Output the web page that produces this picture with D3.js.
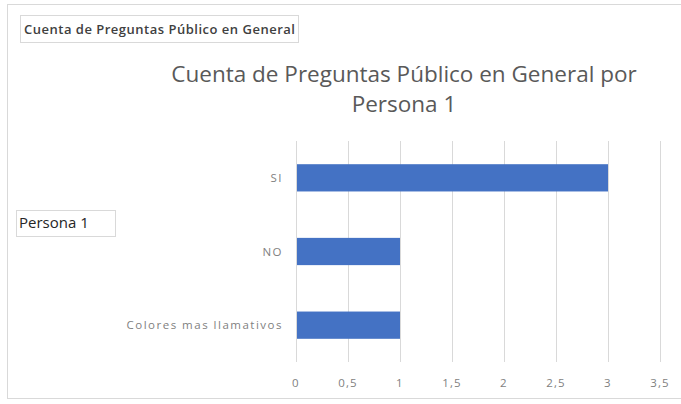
<!DOCTYPE html>
<html>
<head>
<meta charset="utf-8">
<script src="https://cdn.jsdelivr.net/npm/d3@7.9.0/dist/d3.min.js"></script>
<style>
  body { margin: 0; background: #fff; }
  svg { display: block; font-family: "Open Sans", sans-serif; }
</style>
</head>
<body>
<svg id="chart" width="681" height="404"></svg>
<script>
// data
const categories = ['SI', 'NO', 'Colores mas llamativos'];
const counts = [3, 1, 1];
const tickValues = [0, 0.5, 1, 1.5, 2, 2.5, 3, 3.5];
const titleLines = ['Cuenta de Preguntas Público en General por', 'Persona 1'];
const filterLabel = 'Cuenta de Preguntas Público en General';
const rowLabel = 'Persona 1';

const svg = d3.select('#chart');

// outer chart frame
svg.append('rect')
  .attr('x', 7.5).attr('y', 4.5)
  .attr('width', 690).attr('height', 394)
  .attr('fill', '#fff')
  .attr('stroke', '#d9d9d9');

// plot area
const x = d3.scaleLinear().domain([0, 3.5]).range([296, 660]);
const y = d3.scaleBand().domain(categories).range([141, 362]).paddingInner(0.63).paddingOuter(0.315);

// gridlines
svg.append('g')
  .selectAll('line')
  .data(tickValues)
  .join('line')
  .attr('x1', d => x(d) + 0.5).attr('x2', d => x(d) + 0.5)
  .attr('y1', 141).attr('y2', 362)
  .attr('stroke', '#d9d9d9');

// bars
svg.append('g')
  .selectAll('rect')
  .data(categories)
  .join('rect')
  .attr('x', x(0) + 1)
  .attr('y', d => y(d))
  .attr('width', (d, i) => x(counts[i]) - x(0) - 1)
  .attr('height', y.bandwidth())
  .attr('fill', '#4472c4');

// category labels
svg.append('g')
  .selectAll('text')
  .data(categories)
  .join('text')
  .attr('x', 283)
  .attr('y', d => y(d) + y.bandwidth() / 2)
  .attr('dy', '0.35em')
  .attr('text-anchor', 'end')
  .attr('font-size', 11.5)
  .attr('letter-spacing', 1.5)
  .attr('fill', '#7f7f7f')
  .text(d => d);

// x tick labels
svg.append('g')
  .selectAll('text')
  .data(tickValues)
  .join('text')
  .attr('x', d => x(d))
  .attr('y', 383)
  .attr('dy', '0.35em')
  .attr('text-anchor', 'middle')
  .attr('font-size', 11.5)
  .attr('letter-spacing', 1.2)
  .attr('fill', '#7f7f7f')
  .text(d => String(d).replace('.', ','));

// title
svg.append('g')
  .selectAll('text')
  .data(titleLines)
  .join('text')
  .attr('x', 404)
  .attr('y', (d, i) => 82 + i * 30)
  .attr('text-anchor', 'middle')
  .attr('font-size', 22.5)
  .attr('fill', '#595959')
  .text(d => d);

// filter field button
svg.append('rect')
  .attr('x', 20.5).attr('y', 15.5)
  .attr('width', 278).attr('height', 27)
  .attr('fill', '#fff').attr('stroke', '#d9d9d9');
svg.append('text')
  .attr('x', 24).attr('y', 29).attr('dy', '0.35em')
  .attr('font-size', 13).attr('font-weight', 600)
  .attr('letter-spacing', 0.5)
  .attr('fill', '#404040')
  .text(filterLabel);

// axis field button
svg.append('rect')
  .attr('x', 16.5).attr('y', 210.5)
  .attr('width', 99).attr('height', 26)
  .attr('fill', '#fff').attr('stroke', '#d9d9d9');
svg.append('text')
  .attr('x', 19).attr('y', 223).attr('dy', '0.35em')
  .attr('font-size', 15)
  .attr('fill', '#262626')
  .text(rowLabel);
</script>
</body>
</html>
